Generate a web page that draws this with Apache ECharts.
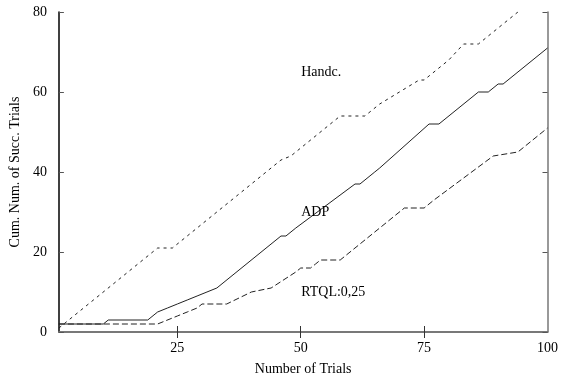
<!DOCTYPE html>
<html>
<head>
<meta charset="utf-8">
<script src="https://cdn.jsdelivr.net/npm/echarts@6/dist/echarts.min.js"></script>
<style>
  html, body { margin: 0; padding: 0; background: #fff; }
  #chart { width: 561px; height: 381px; }
</style>
</head>
<body>
<div id="chart"></div>
<script>
// vertices of the step curves
const handcX = [1, 21, 24, 29, 37, 46, 48, 57, 58, 63, 66, 70, 74, 75, 80, 83, 86, 94]
const handcY = [1, 21, 21, 26, 34, 43, 44, 53, 54, 54, 57, 60, 63, 63, 68, 72, 72, 80]

const adpX = [1, 10, 11, 19, 21, 23, 25, 27, 29, 31, 33, 46, 47, 49, 61, 62, 65, 66, 76, 78, 86, 88, 90, 91, 100]
const adpY = [2, 2, 3, 3, 5, 6, 7, 8, 9, 10, 11, 24, 24, 26, 37, 37, 40, 41, 52, 52, 60, 60, 62, 62, 71]

const rtqlX = [1, 21, 25, 27, 29, 30, 35, 40, 44, 49, 50, 52, 53, 54, 58, 71, 75, 77, 89, 94, 100]
const rtqlY = [2, 2, 4, 5, 6, 7, 7, 10, 11, 15, 16, 16, 17, 18, 18, 31, 31, 33, 44, 45, 51]

const xTicks = [25, 50, 75, 100]
const seriesNames = ['Handc.', 'ADP', 'RTQL:0,25']

const pairs = (xs, ys) => xs.map((x, i) => [x, ys[i]])

const chart = echarts.init(document.getElementById('chart'))

const font = 'Liberation Serif'
const lineCol = '#222'

// curve name written inside the plot
const labelMark = (name, x, y) => ({
  silent: true,
  symbol: 'circle',
  symbolSize: 1,
  itemStyle: { color: 'rgba(0,0,0,0)' },
  label: {
    show: true,
    formatter: name,
    position: 'right',
    distance: 0,
    color: '#000',
    fontFamily: font,
    fontSize: 14
  },
  data: [{ coord: [x, y] }]
})

chart.setOption({
  animation: false,
  backgroundColor: '#fff',
  grid: { left: 57, right: 12, top: 12, bottom: 46 },
  xAxis: [
    {
      type: 'value',
      min: 1,
      max: 100,
      position: 'bottom',
      name: 'Number of Trials',
      nameLocation: 'middle',
      nameGap: 30,
      nameTextStyle: { fontFamily: font, fontSize: 14, color: '#000' },
      axisLine: { lineStyle: { color: '#555', width: 1.5 } },
      axisTick: { inside: true, length: 6, customValues: [25, 50, 75], lineStyle: { color: '#333' } },
      axisLabel: { customValues: xTicks, margin: 9, fontFamily: font, fontSize: 14, color: '#000' },
      splitLine: { show: false }
    },
    {
      type: 'value',
      min: 1,
      max: 100,
      position: 'top',
      axisLine: { lineStyle: { color: '#777', width: 1.5 } },
      axisTick: { inside: true, length: 6, customValues: [25, 50, 75], lineStyle: { color: '#333' } },
      axisLabel: { show: false },
      splitLine: { show: false }
    }
  ],
  yAxis: [
    {
      type: 'value',
      min: 0,
      max: 80,
      interval: 20,
      position: 'left',
      name: 'Cum. Num. of Succ. Trials',
      nameLocation: 'middle',
      nameGap: 32,
      nameTextStyle: { fontFamily: font, fontSize: 14, color: '#000' },
      axisLine: { show: true, lineStyle: { color: '#000', width: 1.5 } },
      axisTick: { show: true, inside: true, length: 5, lineStyle: { color: '#555' } },
      axisLabel: { margin: 12, fontFamily: font, fontSize: 14, color: '#000' },
      splitLine: { show: false }
    },
    {
      type: 'value',
      min: 0,
      max: 80,
      interval: 20,
      position: 'right',
      axisLine: { show: true, lineStyle: { color: '#777', width: 1.5 } },
      axisTick: { show: true, inside: true, length: 5, lineStyle: { color: '#555' } },
      axisLabel: { show: false },
      splitLine: { show: false }
    }
  ],
  series: [
    {
      name: seriesNames[0],
      type: 'line',
      data: pairs(handcX, handcY),
      showSymbol: false,
      lineStyle: { color: lineCol, width: 1, type: [3, 4] },
      markPoint: labelMark(seriesNames[0], 50, 65)
    },
    {
      name: seriesNames[1],
      type: 'line',
      data: pairs(adpX, adpY),
      showSymbol: false,
      lineStyle: { color: lineCol, width: 1 },
      markPoint: labelMark(seriesNames[1], 50, 30)
    },
    {
      name: seriesNames[2],
      type: 'line',
      data: pairs(rtqlX, rtqlY),
      showSymbol: false,
      lineStyle: { color: lineCol, width: 1, type: [6, 3] },
      markPoint: labelMark(seriesNames[2], 50, 10)
    }
  ]
})
</script>
</body>
</html>
